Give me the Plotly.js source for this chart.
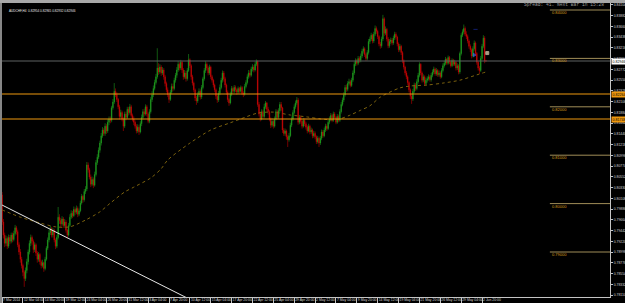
<!DOCTYPE html>
<html><head><meta charset="utf-8">
<script src="https://cdn.plot.ly/plotly-3.0.1.min.js"></script>
<style>html,body{margin:0;padding:0;background:#000;overflow:hidden}#chart{width:625px;height:303px}</style>
</head><body><div id="chart"></div>
<script>
// AUDCHF H4 candles, prices stored in pips (price x 10000)
const openPips = [
8018,7962,7935,7918,7928,7912,7930,7922,7935,7926,
7938,7950,7942,7915,7900,7885,7872,7858,7845,7862,
7880,7900,7918,7930,7922,7905,7915,7898,7885,7895,
7880,7872,7878,7866,7885,7908,7925,7940,7948,7935,
7945,7925,7912,7930,7972,7965,7958,7968,7955,7962,
7945,7935,7955,7972,7980,7975,7988,7982,7990,7978,
7985,8001,8015,8008,8025,8030,8080,8070,8055,8040,
8050,8038,8060,8085,8096,8110,8125,8140,8152,8145,
8160,8150,8168,8175,8172,8198,8210,8232,8225,8215,
8200,8180,8188,8175,8160,8185,8178,8195,8188,8200,
8182,8175,8168,8160,8150,8158,8148,8165,8178,8190,
8185,8200,8185,8170,8190,8215,8225,8238,8250,8262,
8280,8272,8282,8270,8276,8262,8248,8235,8225,8215,
8230,8242,8238,8255,8265,8276,8288,8280,8292,8276,
8262,8270,8258,8275,8297,8285,8262,8249,8235,8218,
8212,8225,8232,8220,8240,8258,8275,8288,8280,8270,
8282,8262,8255,8245,8235,8222,8214,8228,8240,8255,
8270,8258,8245,8230,8215,8208,8226,8238,8232,8240,
8235,8230,8238,8232,8240,8228,8226,8242,8250,8262,
8270,8265,8278,8282,8276,8288,8294,8205,8185,8175,
8190,8180,8200,8208,8195,8190,8175,8162,8170,8160,
8175,8190,8178,8192,8205,8198,8152,8145,8150,8138,
8132,8140,8162,8175,8188,8200,8208,8214,8168,8178,
8170,8160,8172,8165,8158,8150,8160,8148,8152,8140,
8145,8138,8128,8135,8125,8135,8148,8140,8152,8160,
8155,8168,8175,8182,8172,8185,8178,8168,8180,8172,
8190,8205,8214,8225,8240,8236,8248,8252,8244,8255,
8270,8288,8295,8290,8300,8296,8305,8315,8320,8308,
8300,8312,8335,8340,8348,8336,8350,8362,8356,8345,
8330,8326,8340,8382,8352,8360,8340,8326,8335,8338,
8332,8342,8350,8344,8330,8318,8325,8312,8295,8282,
8270,8262,8250,8235,8222,8216,8232,8245,8238,8252,
8265,8288,8270,8255,8262,8248,8255,8258,8262,8256,
8265,8272,8278,8268,8275,8266,8270,8262,8275,8285,
8290,8298,8290,8302,8292,8285,8296,8288,8292,8280,
8285,8272,8310,8348,8355,8362,8350,8345,8336,8325,
8318,8305,8320,8332,8310,8292,8280,8275,8300,8325,
8342,8295];
const highPips = [
8024,7968,7940,7934,7932,7936,7935,7940,7940,7944,
7956,7954,7946,7920,7906,7890,7876,7862,7868,7886,
7905,7924,7936,7934,7926,7920,7918,7902,7900,7898,
7884,7884,7880,7890,7912,7930,7946,7954,7952,7950,
7948,7928,7935,7993,7978,7970,7974,7972,7968,7966,
7948,7960,7978,7986,7985,7994,7992,7996,7994,7990,
8006,8020,8018,8030,8036,8086,8085,8074,8060,8056,
8054,8066,8090,8102,8116,8130,8146,8158,8156,8166,
8164,8174,8180,8180,8202,8216,8249,8238,8230,8218,
8204,8194,8192,8178,8190,8190,8200,8200,8206,8204,
8186,8180,8172,8164,8164,8162,8170,8184,8195,8196,
8205,8204,8188,8195,8220,8232,8244,8256,8268,8321,
8290,8288,8286,8282,8280,8266,8252,8240,8230,8235,
8248,8248,8260,8270,8282,8294,8292,8297,8295,8280,
8276,8274,8280,8309,8300,8288,8266,8252,8238,8222,
8230,8238,8236,8245,8262,8280,8294,8292,8284,8287,
8285,8266,8258,8248,8238,8226,8233,8246,8260,8275,
8274,8262,8248,8234,8218,8231,8243,8242,8245,8244,
8238,8242,8241,8244,8243,8232,8247,8255,8267,8276,
8275,8283,8288,8286,8293,8298,8296,8210,8190,8195,
8194,8206,8212,8210,8200,8193,8178,8176,8174,8180,
8195,8194,8197,8210,8210,8200,8156,8155,8153,8142,
8146,8167,8180,8193,8205,8213,8220,8218,8183,8182,
8174,8177,8176,8169,8162,8165,8163,8157,8155,8150,
8149,8141,8140,8138,8140,8153,8152,8157,8165,8164,
8173,8180,8187,8186,8190,8189,8181,8185,8184,8195,
8210,8219,8230,8245,8246,8253,8258,8256,8260,8275,
8293,8300,8299,8305,8304,8310,8320,8325,8323,8312,
8317,8340,8345,8353,8351,8355,8368,8366,8359,8348,
8334,8345,8390,8385,8366,8363,8344,8340,8343,8342,
8347,8355,8354,8347,8333,8330,8328,8315,8298,8285,
8274,8265,8253,8238,8226,8237,8250,8249,8257,8270,
8292,8290,8273,8267,8265,8260,8263,8267,8266,8270,
8277,8283,8281,8280,8278,8275,8273,8280,8290,8295,
8303,8301,8306,8305,8296,8300,8299,8297,8295,8290,
8288,8314,8352,8360,8370,8366,8356,8349,8339,8329,
8321,8325,8337,8335,8313,8295,8284,8305,8330,8348,
8346,8297];
const lowPips = [
7956,7928,7910,7912,7906,7908,7916,7918,7920,7922,
7934,7936,7910,7894,7878,7866,7850,7828,7840,7856,
7874,7895,7912,7915,7898,7900,7892,7878,7880,7874,
7866,7868,7859,7862,7882,7904,7920,7935,7930,7930,
7920,7906,7908,7926,7958,7952,7954,7950,7950,7940,
7928,7932,7952,7968,7970,7972,7976,7978,7972,7974,
7982,7998,8002,8004,8020,8026,8064,8050,8034,8036,
8032,8035,8056,8080,8092,8105,8120,8136,8140,8140,
8144,8146,8162,8166,8168,8194,8206,8220,8210,8195,
8174,8176,8170,8150,8156,8172,8175,8182,8184,8178,
8170,8162,8155,8145,8146,8142,8145,8160,8174,8180,
8182,8180,8166,8166,8186,8210,8220,8234,8246,8258,
8266,8268,8264,8266,8256,8242,8230,8220,8208,8212,
8226,8232,8234,8250,8260,8272,8275,8276,8270,8256,
8258,8252,8254,8272,8280,8256,8244,8230,8212,8204,
8208,8220,8215,8216,8236,8254,8270,8275,8265,8266,
8257,8250,8240,8230,8216,8208,8210,8224,8236,8250,
8252,8240,8225,8210,8202,8205,8222,8228,8228,8230,
8225,8227,8228,8229,8224,8220,8223,8238,8246,8258,
8260,8262,8273,8271,8273,8284,8200,8180,8170,8172,
8175,8176,8196,8190,8184,8170,8156,8158,8155,8157,
8172,8174,8175,8188,8192,8146,8140,8140,8132,8117,
8128,8137,8158,8171,8184,8196,8204,8163,8164,8165,
8155,8157,8160,8153,8145,8147,8143,8144,8135,8136,
8133,8123,8124,8117,8121,8131,8136,8137,8148,8150,
8152,8164,8171,8168,8169,8174,8164,8165,8168,8169,
8186,8201,8210,8221,8231,8232,8244,8240,8241,8251,
8266,8284,8285,8286,8291,8292,8301,8310,8303,8295,
8296,8308,8330,8336,8331,8332,8346,8351,8340,8325,
8320,8322,8336,8346,8348,8335,8321,8322,8330,8327,
8328,8338,8339,8325,8313,8314,8307,8290,8277,8265,
8257,8245,8230,8216,8206,8212,8228,8233,8234,8248,
8261,8265,8250,8251,8243,8244,8250,8254,8252,8252,
8261,8268,8264,8264,8262,8262,8258,8259,8271,8281,
8286,8286,8287,8288,8281,8282,8284,8284,8275,8276,
8267,8268,8306,8344,8351,8346,8340,8331,8320,8313,
8300,8302,8316,8305,8287,8275,8268,8272,8296,8321,
8290,8293];
const closePips = [
7962,7935,7918,7928,7912,7930,7922,7935,7926,7938,
7950,7942,7915,7900,7885,7872,7858,7845,7862,7880,
7900,7918,7930,7922,7905,7915,7898,7885,7895,7880,
7872,7878,7866,7885,7908,7925,7940,7948,7935,7945,
7925,7912,7930,7972,7965,7958,7968,7955,7962,7945,
7935,7955,7972,7980,7975,7988,7982,7990,7978,7985,
8001,8015,8008,8025,8030,8080,8070,8055,8040,8050,
8038,8060,8085,8096,8110,8125,8140,8152,8145,8160,
8150,8168,8175,8172,8198,8210,8232,8225,8215,8200,
8180,8188,8175,8160,8185,8178,8195,8188,8200,8182,
8175,8168,8160,8150,8158,8148,8165,8178,8190,8185,
8200,8185,8170,8190,8215,8225,8238,8250,8262,8280,
8272,8282,8270,8276,8262,8248,8235,8225,8215,8230,
8242,8238,8255,8265,8276,8288,8280,8292,8276,8262,
8270,8258,8275,8297,8285,8262,8249,8235,8218,8212,
8225,8232,8220,8240,8258,8275,8288,8280,8270,8282,
8262,8255,8245,8235,8222,8214,8228,8240,8255,8270,
8258,8245,8230,8215,8208,8226,8238,8232,8240,8235,
8230,8238,8232,8240,8228,8226,8242,8250,8262,8270,
8265,8278,8282,8276,8288,8294,8205,8185,8175,8190,
8180,8200,8208,8195,8190,8175,8162,8170,8160,8175,
8190,8178,8192,8205,8198,8152,8145,8150,8138,8132,
8140,8162,8175,8188,8200,8208,8214,8168,8178,8170,
8160,8172,8165,8158,8150,8160,8148,8152,8140,8145,
8138,8128,8135,8125,8135,8148,8140,8152,8160,8155,
8168,8175,8182,8172,8185,8178,8168,8180,8172,8190,
8205,8214,8225,8240,8236,8248,8252,8244,8255,8270,
8288,8295,8290,8300,8296,8305,8315,8320,8308,8300,
8312,8335,8340,8348,8336,8350,8362,8356,8345,8330,
8326,8340,8382,8352,8360,8340,8326,8335,8338,8332,
8342,8350,8344,8330,8318,8325,8312,8295,8282,8270,
8262,8250,8235,8222,8216,8232,8245,8238,8252,8265,
8288,8270,8255,8262,8248,8255,8258,8262,8256,8265,
8272,8278,8268,8275,8266,8270,8262,8275,8285,8290,
8298,8290,8302,8292,8285,8296,8288,8292,8280,8285,
8272,8310,8348,8355,8362,8350,8345,8336,8325,8318,
8305,8320,8332,8310,8292,8280,8275,8300,8325,8342,
8295,8295];

// moving average (dotted), sampled at bar indices
const maBars = [0,14,29,41,52,64,75,83,94,101,114,122,127,144,160,175,183,196,208,221,234,244,254,259,267,275,282,290,305,313,326,338,351,364,371];
const maPips = [7987,7972,7960,7952,7952,7966,7983,8001,8024,8034,8053,8072,8090,8125,8152,8167,8175,8187,8189,8183,8179,8175,8173,8175,8183,8193,8202,8220,8239,8243,8245,8249,8255,8266,8272];

// hand-drawn trend line
const trendBars = [0, 150];
const trendPips = [7997, 7794];

// trade markers near the end
const markerBars = [362, 363, 372];
const markerPips = [8307, 8360, 8311];

// time axis labels (every 16 bars)
const xTickBars = [0,16,32,48,64,80,96,112,128,144,160,176,192,208,224,240,256,272,288,304,320,336,352,368];
const xTickText = ['7 Mar 2014','12 Mar 04:00','14 Mar 20:00','19 Mar 12:00','24 Mar 04:00','26 Mar 20:00','31 Mar 12:00','3 Apr 04:00','7 Apr 20:00','10 Apr 12:00','15 Apr 04:00','17 Apr 20:00','22 Apr 12:00','25 Apr 04:00','29 Apr 20:00','2 May 12:00','7 May 04:00','9 May 20:00','14 May 12:00','19 May 04:00','21 May 20:00','26 May 12:00','29 May 04:00','2 Jun 20:00'];

// price axis labels
const yTickVals = [0.78110,0.78332,0.78554,0.78776,0.78998,0.79220,0.79442,0.79664,0.79886,0.80108,0.80330,0.80552,0.80774,0.80996,0.81218,0.81440,0.81662,0.81884,0.82106,0.82328,0.82550,0.82772,0.82994,0.83216,0.83438,0.83660,0.83882,0.84104];

// round-number levels
const roundLevels = [0.84, 0.83, 0.82, 0.81, 0.80, 0.79];
const roundLevelText = ['0.84000','0.83000','0.82000','0.81000','0.80000','0.79000'];
const bidPrice = 0.82946;
const bidText = '0.82946';
const orangeLevels = [0.82264, 0.81748];
const orangeText = ['0.82264', '0.81748'];
const headerText = 'AUDCHF,H4  0.82954 0.82965 0.82932 0.82946';
const infoText = 'Spread: 41. Next Bar in 15:28';

const PIP = 10000;
const toPrice = v => v / PIP;
const barIndex = closePips.map((_, i) => i);
const X0 = -0.05, X1 = 466.1;
const W = 608, H = 294;

const traces = [
  {type:'candlestick', x: barIndex,
   open: openPips.map(toPrice), high: highPips.map(toPrice), low: lowPips.map(toPrice), close: closePips.map(toPrice),
   increasing:{line:{color:'#1c941c', width:0.6}, fillcolor:'#2fd62f'},
   decreasing:{line:{color:'#c00000', width:0.6}, fillcolor:'#ff1a1a'},
   whiskerwidth:0, hoverinfo:'skip', showlegend:false},
  {type:'scatter', mode:'lines', x: maBars, y: maPips.map(toPrice),
   line:{color:'#7c620e', width:1, dash:'dot', shape:'spline', smoothing:0.8}, hoverinfo:'skip', showlegend:false},
  {type:'scatter', mode:'lines', x: trendBars, y: trendPips.map(toPrice),
   line:{color:'#e6e6e6', width:1}, hoverinfo:'skip', showlegend:false},
  {type:'scatter', mode:'markers', x: markerBars, y: markerPips.map(toPrice),
   marker:{size:[3,3,3], symbol:['triangle-right','line-ew-open','square'], color:['#3d6cff','#1a2a9a','#f0e2c0'], line:{width:1, color:['#3d6cff','#1a2a9a','#f0e2c0']}},
   hoverinfo:'skip', showlegend:false, cliponaxis:false}
];

const shapes = [];
const annotations = [];
roundLevels.forEach((lv, k) => {
  shapes.push({type:'line', xref:'x', yref:'y', x0:420, x1:X1, y0:lv, y1:lv, line:{color:'#a08d58', width:1}});
  annotations.push({xref:'x', yref:'y', x:420.5, y:lv, text:roundLevelText[k], showarrow:false, xanchor:'left', yanchor:'top', borderpad:0, yshift:1,
    font:{family:'Liberation Sans, Arial, sans-serif', size:4, color:'#dc9c1c'}});
});
shapes.push({type:'line', xref:'paper', yref:'y', x0:0, x1:1, y0:bidPrice, y1:bidPrice, line:{color:'#5e6262', width:1}});
orangeLevels.forEach(lv => shapes.push({type:'line', xref:'paper', yref:'y', x0:0, x1:1, y0:lv, y1:lv, line:{color:'#ee980e', width:1.2}}));
// window frame strips
shapes.push({type:'rect', xref:'paper', yref:'paper', x0:-2/W, x1:1+15/W, y0:1, y1:1+3/H, fillcolor:'#a8a8a8', line:{width:0}, layer:'above'});
shapes.push({type:'rect', xref:'paper', yref:'paper', x0:-2/W, x1:0, y0:-6/H, y1:1, fillcolor:'#868686', line:{width:0}, layer:'above'});

annotations.push({xref:'paper', yref:'y', x:1, y:bidPrice, text:bidText, showarrow:false, xanchor:'left', yanchor:'middle', xshift:1,
  bgcolor:'#ffffff', borderpad:0.6, font:{family:'Liberation Sans, Arial, sans-serif', size:3.6, color:'#000'}});
orangeLevels.forEach((lv, k) => annotations.push({xref:'paper', yref:'y', x:1, y:lv, text:orangeText[k], showarrow:false, xanchor:'left', yanchor:'middle', xshift:1,
  bgcolor:'#ee980e', borderpad:0.6, font:{family:'Liberation Sans, Arial, sans-serif', size:3.6, color:'#000'}}));
annotations.push({xref:'paper', yref:'paper', x:5/W, y:(297-11)/H, text:headerText, showarrow:false, xanchor:'left', yanchor:'middle',
  font:{family:'Liberation Sans, Arial, sans-serif', size:3.1, color:'#e8e8e8'}});
annotations.push({xref:'paper', yref:'paper', x:604/W, y:(297-4.5)/H, text:infoText, showarrow:false, xanchor:'right', yanchor:'middle',
  font:{family:'Liberation Mono, DejaVu Sans Mono, monospace', size:4.6, color:'#9a9a9a'}});

const tickFont = {family:'Liberation Sans, Arial, sans-serif', size:3.4, color:'#d2d2d2'};
const layout = {
  width:625, height:303, margin:{l:2, r:15, t:3, b:6, pad:0},
  paper_bgcolor:'#000', plot_bgcolor:'#000', showlegend:false, dragmode:false,
  xaxis:{range:[X0, X1], showgrid:false, zeroline:false, showline:true, linecolor:'#c4c4c4', linewidth:1,
    ticks:'outside', ticklen:6, tickwidth:1, tickcolor:'#c4c4c4', tickvals:xTickBars, ticktext:xTickText, tickangle:0,
    ticklabelposition:'outside right', ticklabelstandoff:-1, tickfont:tickFont, rangeslider:{visible:false}, fixedrange:true},
  yaxis:{range:[0.780702, 0.841446], side:'right', showgrid:false, zeroline:false, showline:true, linecolor:'#c4c4c4', linewidth:1,
    ticks:'outside', ticklen:2, tickwidth:1, tickcolor:'#c4c4c4', tickvals:yTickVals, tickformat:'.5f', tickfont:tickFont, fixedrange:true},
  shapes, annotations
};
Plotly.newPlot('chart', traces, layout, {staticPlot:true, displayModeBar:false});
</script>
</body></html>
